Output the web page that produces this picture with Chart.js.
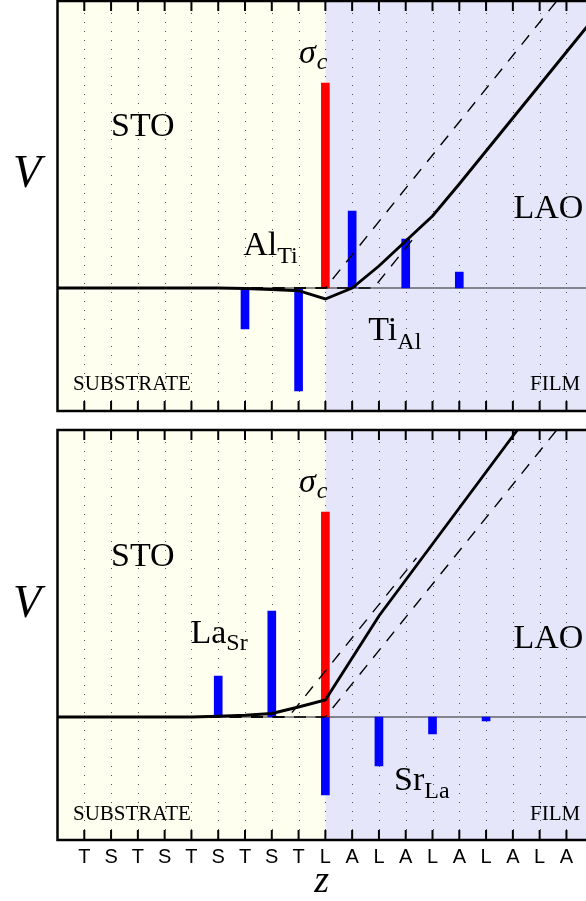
<!DOCTYPE html>
<html>
<head>
<meta charset="utf-8">
<script src="https://cdn.jsdelivr.net/npm/chart.js@4.4.1/dist/chart.umd.min.js"></script>
<style>
  html, body { margin: 0; padding: 0; background: #fff; }
  #wrap { position: relative; width: 586px; height: 901px; overflow: hidden; }
  canvas { position: absolute; left: 0; }
  #topPanel { top: 0; }
  #botPanel { top: 421px; }
</style>
</head>
<body>
<div id="wrap">
  <canvas id="topPanel" width="586" height="421"></canvas>
  <canvas id="botPanel" width="586" height="480"></canvas>
</div>
<script>
// layer sequence along z (substrate T/S, film L/A)
const siteLabels = ['T','S','T','S','T','S','T','S','T','L','A','L','A','L','A','L','A','L','A'];
const interfaceSite = 9;

// interface charge sigma_c (same in both panels)
const sigmaSite = [9];
const sigmaValue = [205];

// top panel: Al_Ti / Ti_Al defects
const topDefectSite = [6, 8, 10, 12, 14];
const topDefectValue = [-41, -103, 77, 49, 16];
const topPotentialZ = [-1, 5, 6, 7, 8, 9, 10, 11, 12, 13, 14, 15, 16, 17, 18, 19];
const topPotentialV = [0, 0, -0.5, -1.5, -2.7, -11, 0, 22, 47, 72, 104, 137, 170, 203, 236, 269];
const topDashAZ = [-1, 9, 18];
const topDashAV = [0, 0, 299];
const topDashBZ = [-1, 10.8, 12.45];
const topDashBV = [0, 0, 55];

// bottom panel: La_Sr / Sr_La defects
const botDefectSite = [5, 7, 9, 11, 13, 15];
const botDefectValue = [41, 106, -78, -49, -17, -4];
const botPotentialZ = [-1, 4, 5, 6, 7, 8, 9, 10, 11, 12, 13, 14, 15, 16, 17];
const botPotentialV = [0, 0, 0.7, 1.7, 3.5, 10, 17, 59, 101, 137, 173, 209, 245, 281, 317];
const botDashAZ = [-1, 9, 18];
const botDashAV = [0, 0, 299];
const botDashBZ = [-1, 7.62, 12.4];
const botDashBV = [0, 0, 159];

// axis ranges
const zMin = -1, zMax = 18.73;
const vMin = -123, vMax = 287;

const SERIF = '"Liberation Serif", "Times New Roman", serif';
const SANS = '"Liberation Sans", Arial, sans-serif';

function pts(xs, ys) {
  return xs.map((x, i) => ({ x: x, y: ys[i] }));
}

function drawLabel(ctx, a, L) {
  ctx.fillStyle = '#000';
  ctx.textAlign = 'left';
  ctx.textBaseline = 'alphabetic';
  ctx.font = L.font;
  const y = a.top + L.y;
  ctx.fillText(L.text, L.x, y);
  if (L.sub) {
    const w = ctx.measureText(L.text).width;
    ctx.font = L.subFont;
    ctx.fillText(L.sub, L.x + w + (L.gap || 0), y + L.drop);
  }
}

const panelDecor = {
  id: 'panelDecor',
  beforeDatasetsDraw(chart) {
    const { ctx, chartArea: a, scales: { x, y } } = chart;
    const xb = x.getPixelForValue(interfaceSite);
    ctx.save();
    ctx.fillStyle = '#fffff0';
    ctx.fillRect(a.left, a.top, xb - a.left, a.bottom - a.top);
    ctx.fillStyle = '#e6e6fa';
    ctx.fillRect(xb, a.top, a.right - xb, a.bottom - a.top);

    // dotted site lines
    ctx.strokeStyle = '#555';
    ctx.lineWidth = 1;
    ctx.setLineDash([1, 8]);
    siteLabels.forEach((_, k) => {
      const px = Math.round(x.getPixelForValue(k)) + 0.5;
      ctx.beginPath();
      ctx.moveTo(px, a.top + 12);
      ctx.lineTo(px, a.bottom - 10);
      ctx.stroke();
    });
    ctx.setLineDash([]);

    // V = 0 line
    const y0 = y.getPixelForValue(0);
    ctx.strokeStyle = '#222';
    ctx.lineWidth = 1;
    ctx.beginPath();
    ctx.moveTo(a.left, y0);
    ctx.lineTo(a.right, y0);
    ctx.stroke();
    ctx.restore();
  },
  afterDatasetsDraw(chart, args, opts) {
    const { ctx, chartArea: a, scales: { x } } = chart;
    ctx.save();
    // frame (right side is cut off in the figure)
    ctx.strokeStyle = '#000';
    ctx.lineWidth = 2.5;
    ctx.beginPath();
    ctx.moveTo(a.right, a.top);
    ctx.lineTo(a.left, a.top);
    ctx.lineTo(a.left, a.bottom);
    ctx.lineTo(a.right, a.bottom);
    ctx.stroke();
    // inward ticks
    ctx.lineWidth = 2;
    siteLabels.forEach((_, k) => {
      const px = x.getPixelForValue(k);
      ctx.beginPath();
      ctx.moveTo(px, a.top);
      ctx.lineTo(px, a.top + 10);
      ctx.moveTo(px, a.bottom - 10);
      ctx.lineTo(px, a.bottom);
      ctx.stroke();
    });
    (opts.labels || []).forEach(L => drawLabel(ctx, a, L));
    ctx.restore();
  }
};

const big = '34px ' + SERIF;
const sub = '24px ' + SERIF;
const small = '21px ' + SERIF;

const topLabels = [
  { text: 'STO', x: 111, y: 135, font: big },
  { text: 'LAO', x: 513.5, y: 217, font: big },
  { text: 'Al', sub: 'Ti', x: 243.3, y: 254, drop: 8, font: big, subFont: sub },
  { text: 'Ti', sub: 'Al', x: 368.3, y: 339, drop: 8.5, font: big, subFont: sub },
  { text: 'σ', sub: 'c', x: 299, y: 62, drop: 6, gap: 1, font: 'italic 34px ' + SERIF, subFont: 'italic 24px ' + SERIF },
  { text: 'SUBSTRATE', x: 73, y: 389, font: small },
  { text: 'FILM', x: 530, y: 389, font: small },
  { text: 'V', x: 13, y: 186, font: 'italic 46px ' + SERIF }
];

const botLabels = [
  { text: 'STO', x: 111, y: 136, font: big },
  { text: 'LAO', x: 513.5, y: 218, font: big },
  { text: 'La', sub: 'Sr', x: 190.5, y: 213.3, drop: 6.7, font: big, subFont: sub },
  { text: 'Sr', sub: 'La', x: 394, y: 360, drop: 8.3, font: big, subFont: sub },
  { text: 'σ', sub: 'c', x: 299, y: 62, drop: 6, gap: 1, font: 'italic 34px ' + SERIF, subFont: 'italic 24px ' + SERIF },
  { text: 'SUBSTRATE', x: 73, y: 390, font: small },
  { text: 'FILM', x: 530, y: 390, font: small },
  { text: 'V', x: 13, y: 187, font: 'italic 46px ' + SERIF }
];

function makePanel(id, p) {
  return new Chart(document.getElementById(id), {
    type: 'bar',
    data: {
      datasets: [
        { type: 'line', label: 'V(z)', data: pts(p.potZ, p.potV), borderColor: '#000', borderWidth: 2.9,
          pointRadius: 0, tension: 0, clip: 0, order: 0 },
        { type: 'line', label: 'asymptote', data: pts(p.dashAZ, p.dashAV), borderColor: '#000', borderWidth: 1.4,
          borderDash: [12, 9.5], pointRadius: 0, tension: 0, clip: 0, order: 1 },
        { type: 'line', label: 'asymptote 2', data: pts(p.dashBZ, p.dashBV), borderColor: '#000', borderWidth: 1.4,
          borderDash: [12, 9.5], pointRadius: 0, tension: 0, clip: 0, order: 1 },
        { label: 'sigma_c', data: pts(sigmaSite, sigmaValue), backgroundColor: '#ff0000',
          grouped: false, barThickness: 8, maxBarThickness: 8, order: 2 },
        { label: 'defects', data: pts(p.defZ, p.defV), backgroundColor: '#0000ff',
          grouped: false, barThickness: 8, maxBarThickness: 8, order: 3 }
      ]
    },
    options: {
      responsive: false,
      animation: false,
      layout: { padding: { left: 57.5, right: 0, top: p.padTop, bottom: p.padBottom } },
      plugins: {
        legend: { display: false },
        tooltip: { enabled: false },
        panelDecor: { labels: p.labels }
      },
      scales: {
        x: {
          type: 'linear', min: zMin, max: zMax, offset: false,
          display: p.showAxis,
          grid: { display: false, drawTicks: false },
          border: { display: false },
          afterFit: s => { if (p.showAxis) s.height = 61; },
          ticks: {
            stepSize: 1, includeBounds: false, autoSkip: false, maxRotation: 0, minRotation: 0,
            padding: 5, color: '#000', font: { family: SANS, size: 20 },
            callback: v => (Number.isInteger(v) && v >= 0 && v < siteLabels.length) ? siteLabels[v] : ''
          },
          title: { display: true, text: 'z', color: '#000', padding: { top: 0, bottom: 0 },
                   font: { family: SERIF, size: 38, style: 'italic', lineHeight: 1 } }
        },
        y: { type: 'linear', min: vMin, max: vMax, display: false }
      }
    },
    plugins: [panelDecor]
  });
}

makePanel('topPanel', {
  potZ: topPotentialZ, potV: topPotentialV,
  dashAZ: topDashAZ, dashAV: topDashAV, dashBZ: topDashBZ, dashBV: topDashBV,
  defZ: topDefectSite, defV: topDefectValue,
  labels: topLabels, showAxis: false, padTop: 1, padBottom: 10
});

makePanel('botPanel', {
  potZ: botPotentialZ, potV: botPotentialV,
  dashAZ: botDashAZ, dashAV: botDashAV, dashBZ: botDashBZ, dashBV: botDashBV,
  defZ: botDefectSite, defV: botDefectValue,
  labels: botLabels, showAxis: true, padTop: 9, padBottom: 0
});
</script>
</body>
</html>
